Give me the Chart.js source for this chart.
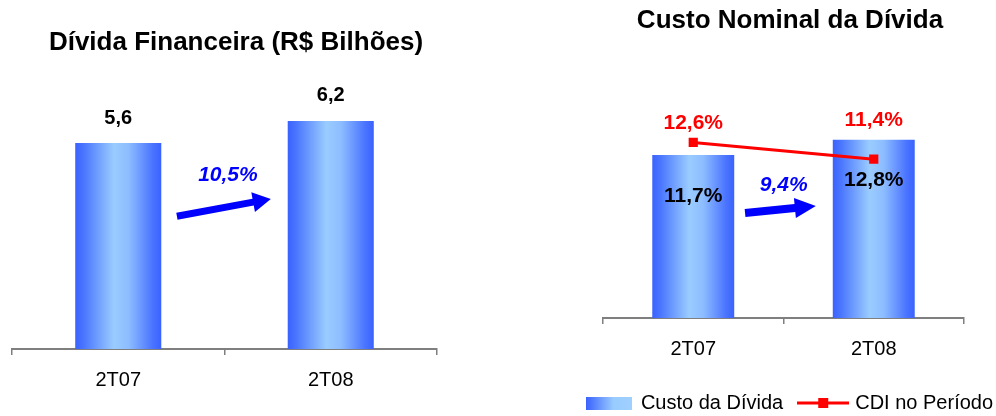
<!DOCTYPE html>
<html>
<head>
<meta charset="utf-8">
<script src="https://cdn.jsdelivr.net/npm/chart.js@4"></script>
<style>
  body { margin: 0; background: #fff; width: 996px; height: 416px; position: relative; overflow: hidden; }
  canvas { position: absolute; top: 0; }
  #divida { left: 0; }
  #custo { left: 560px; }
</style>
</head>
<body>
<canvas id="divida" width="472" height="416"></canvas>
<canvas id="custo" width="460" height="416"></canvas>
<script>
var categories = ['2T07', '2T08'];
var dividaValues = [5.6, 6.2];
var dividaLabels = ['5,6', '6,2'];
var custoValues = [11.7, 12.8];
var custoLabels = ['11,7%', '12,8%'];
var cdiValues = [12.6, 11.4];
var cdiLabels = ['12,6%', '11,4%'];
var dividaGrowth = '10,5%';
var custoGrowth = '9,4%';

var FONT = '"Liberation Sans", Arial, sans-serif';

// horizontal shading across each bar
function barGradient(c) {
  var chart = c.chart, x = chart.scales.x;
  if (!x || !chart.chartArea) return '#3d66ff';
  var w = x.width / categories.length * c.dataset.barPercentage;
  var cx = x.getPixelForValue(c.dataIndex);
  var g = chart.ctx.createLinearGradient(cx - w / 2, 0, cx + w / 2, 0);
  g.addColorStop(0, '#3a62ff');
  g.addColorStop(0.1, '#4a76ff');
  g.addColorStop(0.45, '#9accff');
  g.addColorStop(0.62, '#8dbdff');
  g.addColorStop(0.9, '#4a74ff');
  g.addColorStop(1, '#3a62ff');
  return g;
}

function drawArrow(ctx, x1, y1, x2, y2, thick, headLen, headHalf) {
  var a = Math.atan2(y2 - y1, x2 - x1);
  var len = Math.hypot(x2 - x1, y2 - y1);
  ctx.save();
  ctx.translate(x1, y1);
  ctx.rotate(a);
  ctx.fillStyle = '#0000ff';
  ctx.beginPath();
  ctx.moveTo(0, -thick / 2);
  ctx.lineTo(len - headLen, -thick / 2);
  ctx.lineTo(len - headLen, -headHalf);
  ctx.lineTo(len, 0);
  ctx.lineTo(len - headLen, headHalf);
  ctx.lineTo(len - headLen, thick / 2);
  ctx.lineTo(0, thick / 2);
  ctx.closePath();
  ctx.fill();
  ctx.restore();
}

function xAxis(height) {
  return {
    z: 1,
    offset: true,
    afterFit: function (s) { s.height = height; },
    grid: { drawOnChartArea: false, drawTicks: true, tickLength: 6, color: '#7f7f7f', lineWidth: 1.5, offset: true },
    border: { display: true, color: '#7f7f7f', width: 2 },
    ticks: { color: '#000', font: { family: FONT, size: 20 }, padding: 13.5 }
  };
}

// invisible side axes, used only to set the plot margins
function sideAxis(position, width, max) {
  var s = {
    display: true,
    position: position,
    min: 0,
    afterFit: function (a) { a.width = width; },
    ticks: { display: false },
    grid: { display: false, drawTicks: false },
    border: { display: false }
  };
  if (max) s.max = max;
  return s;
}

var dividaText = {
  id: 'dividaText',
  afterDatasetsDraw: function (chart) {
    var ctx = chart.ctx, x = chart.scales.x, y = chart.scales.y;
    ctx.save();
    ctx.textAlign = 'center';
    ctx.textBaseline = 'middle';
    ctx.fillStyle = '#000';
    ctx.font = 'bold 20px ' + FONT;
    chart.getDatasetMeta(0).data.forEach(function (bar, i) {
      ctx.fillText(dividaLabels[i], bar.x, bar.y - 25);
    });
    drawArrow(ctx, x.getPixelForValue(0.276), y.getPixelForValue(3.61),
      x.getPixelForValue(0.718), y.getPixelForValue(4.08), 7, 18, 10);
    ctx.fillStyle = '#0000ff';
    ctx.font = 'italic bold 21px ' + FONT;
    ctx.fillText(dividaGrowth, x.getPixelForValue(0.516), y.getPixelForValue(4.73));
    ctx.restore();
  }
};

var custoText = {
  id: 'custoText',
  afterDatasetsDraw: function (chart) {
    var ctx = chart.ctx, x = chart.scales.x, y = chart.scales.y;
    var bars = chart.getDatasetMeta(0).data;
    var pts = chart.getDatasetMeta(1).data;
    ctx.save();
    ctx.textAlign = 'center';
    ctx.textBaseline = 'middle';
    ctx.font = 'bold 21px ' + FONT;
    ctx.fillStyle = '#000';
    bars.forEach(function (bar, i) {
      ctx.fillText(custoLabels[i], bar.x, bar.y + 41);
    });
    ctx.fillStyle = '#ff0000';
    pts.forEach(function (p, i) {
      ctx.fillText(cdiLabels[i], p.x, Math.min(p.y, bars[i].y) - 19);
    });
    drawArrow(ctx, x.getPixelForValue(0.287), y.getPixelForValue(7.54),
      x.getPixelForValue(0.679), y.getPixelForValue(8.04), 8, 21, 10);
    ctx.fillStyle = '#0000ff';
    ctx.font = 'italic bold 21px ' + FONT;
    ctx.fillText(custoGrowth, x.getPixelForValue(0.501), y.getPixelForValue(9.55));
    ctx.restore();
  }
};

function swatch(kind) {
  var c = document.createElement('canvas');
  var g;
  if (kind === 'bar') {
    c.width = 46; c.height = 13;
    g = c.getContext('2d');
    var gr = g.createLinearGradient(0, 0, 46, 0);
    gr.addColorStop(0, '#3a62ff');
    gr.addColorStop(0.6, '#99ccff');
    gr.addColorStop(1, '#9fd0ff');
    g.fillStyle = gr;
    g.fillRect(0, 0, 46, 13);
  } else {
    c.width = 52; c.height = 14;
    g = c.getContext('2d');
    g.strokeStyle = '#ff0000';
    g.lineWidth = 3;
    g.beginPath(); g.moveTo(0, 7); g.lineTo(52, 7); g.stroke();
    g.fillStyle = '#ff0000';
    g.fillRect(21, 2, 10, 10);
  }
  return c;
}

new Chart(document.getElementById('divida'), {
  type: 'bar',
  data: {
    labels: categories,
    datasets: [{
      label: 'Dívida Financeira',
      data: dividaValues,
      backgroundColor: barGradient,
      borderWidth: 0,
      categoryPercentage: 1,
      barPercentage: 0.405
    }]
  },
  options: {
    responsive: false,
    animation: false,
    layout: { padding: 0 },
    plugins: {
      legend: { display: false },
      tooltip: { enabled: false },
      title: {
        display: true,
        text: 'Dívida Financeira (R$ Bilhões)',
        color: '#000',
        font: { family: FONT, size: 26, weight: 'bold' },
        padding: { top: 27.4, bottom: 32.9 }
      }
    },
    scales: {
      x: xAxis(67),
      y: sideAxis('left', 12, 7),
      y2: sideAxis('right', 35)
    }
  },
  plugins: [dividaText]
});

new Chart(document.getElementById('custo'), {
  type: 'bar',
  data: {
    labels: categories,
    datasets: [{
      type: 'bar',
      label: 'Custo da Dívida',
      data: custoValues,
      backgroundColor: barGradient,
      borderWidth: 0,
      categoryPercentage: 1,
      barPercentage: 0.454,
      order: 2
    }, {
      type: 'line',
      label: 'CDI no Período',
      data: cdiValues,
      borderColor: '#ff0000',
      backgroundColor: '#ff0000',
      borderWidth: 3,
      pointStyle: 'rect',
      pointRadius: 6.5,
      pointBackgroundColor: '#ff0000',
      pointBorderWidth: 0,
      order: 1
    }]
  },
  options: {
    responsive: false,
    animation: false,
    layout: { padding: { top: 0, left: 0, right: 0, bottom: -7 } },
    plugins: {
      tooltip: { enabled: false },
      title: {
        display: true,
        text: 'Custo Nominal da Dívida',
        color: '#000',
        font: { family: FONT, size: 26, weight: 'bold' },
        padding: { top: 5.4, bottom: 58.5 }
      },
      legend: {
        position: 'bottom',
        labels: {
          usePointStyle: true,
          pointStyleWidth: 44,
          padding: 18,
          color: '#000',
          font: { family: FONT, size: 20 },
          generateLabels: function () {
            return [
              { text: 'Custo da Dívida', pointStyle: swatch('bar'), datasetIndex: 0, lineWidth: 0, fontColor: '#000' },
              { text: 'CDI no Período', pointStyle: swatch('line'), datasetIndex: 1, lineWidth: 0, fontColor: '#000' }
            ];
          }
        }
      }
    },
    scales: {
      x: xAxis(57),
      y: sideAxis('left', 43, 16),
      y2: sideAxis('right', 56)
    }
  },
  plugins: [custoText]
});
</script>
</body>
</html>
